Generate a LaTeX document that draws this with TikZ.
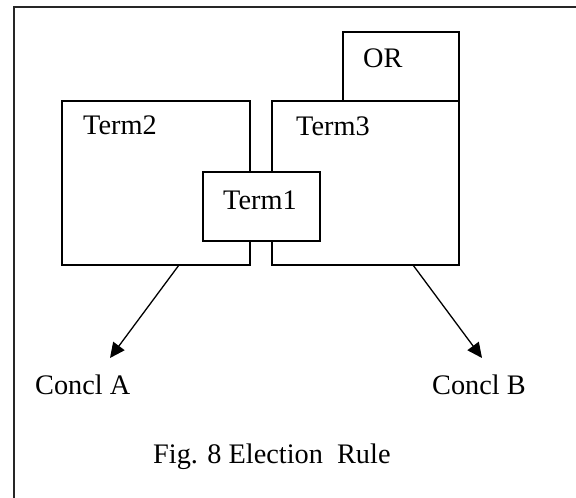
\documentclass[tikz,border=0pt]{standalone}
\usepackage{fontspec}
\setmainfont{Liberation Serif}
\usetikzlibrary{arrows.meta}
\begin{document}
\begin{tikzpicture}[x=1bp,y=-1bp,
  box/.style={draw, line width=1.3bp, fill=white, inner sep=0pt, outer sep=0pt, anchor=north west},
  lbl/.style={inner sep=0pt, anchor=base west, font=\fontsize{28.4}{34}\selectfont},
  arr/.style={line width=1.3bp, -{Triangle[length=15bp,width=14bp]}},
  frameline/.style={line width=1.8bp, draw=black!85}]
\useasboundingbox (0,0) rectangle (576,498);
\draw[frameline] (14,498) -- (14,7) -- (576,7);
\node[box, minimum width=116bp, minimum height=69bp] (orbox) at (343,32) {};
\node[box, minimum width=188bp, minimum height=164bp] (t2box) at (62,101) {};
\node[box, minimum width=187bp, minimum height=164bp] (t3box) at (272,101) {};
\node[box, minimum width=117bp, minimum height=69bp] (t1box) at (203,172) {};
\node[lbl] (orlbl) at (363,68) {OR};
\node[lbl] (t2lbl) at (83,135) {Term2};
\node[lbl] (t3lbl) at (296,136) {Term3};
\node[lbl] (t1lbl) at (223,210) {Term1};
\node[lbl] (ca) at (35,394) {Concl A};
\node[lbl] (cb) at (432,394) {Concl B};
\node[lbl] (cap) at (153,463) {Fig. 8 Election\ \ Rule};
\coordinate (tipA) at (110,358);
\coordinate (tipB) at (482,358);
\draw[arr] ([xshift=117bp]t2box.south west) -- (tipA);
\draw[arr] ([xshift=141bp]t3box.south west) -- (tipB);
\end{tikzpicture}
\end{document}
